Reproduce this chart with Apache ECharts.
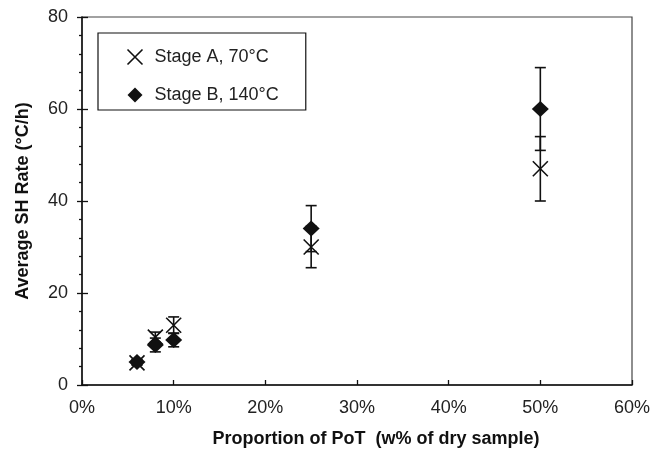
<!DOCTYPE html>
<html>
<head>
<meta charset="utf-8">
<script src="https://cdn.jsdelivr.net/npm/echarts@6/dist/echarts.min.js"></script>
<style>
  html, body { margin: 0; padding: 0; background: #fff; }
  #eChart { width: 653px; height: 449px; }
</style>
</head>
<body>
<div id="eChart"></div>
<script>
// proportion of PoT (%)
var xVals = [6, 8, 10, 25, 50];
// Stage A, 70°C
var aMean = [4.8, 10.4, 13, 30, 47];
var aErr = [0.5, 1.1, 1.8, 4.5, 7];
// Stage B, 140°C
var bMean = [5, 8.7, 9.8, 34, 60];
var bErr = [0.5, 1.5, 1.5, 5, 9];

var crossIcon = 'path://M0,0L10,10M10,0L0,10';
var font = 'Liberation Sans, Arial, sans-serif';

function pts(ys) {
  return xVals.map(function (x, i) { return [x, ys[i]]; });
}
function errData(ys, es) {
  return xVals.map(function (x, i) { return [x, ys[i] - es[i], ys[i] + es[i]]; });
}
function renderErr(params, api) {
  var lo = api.coord([api.value(0), api.value(1)]);
  var hi = api.coord([api.value(0), api.value(2)]);
  var w = 5.5;
  var st = { stroke: '#111', lineWidth: 1.6 };
  return {
    type: 'group',
    children: [
      { type: 'line', shape: { x1: lo[0], y1: lo[1], x2: hi[0], y2: hi[1] }, style: st },
      { type: 'line', shape: { x1: lo[0] - w, y1: lo[1], x2: lo[0] + w, y2: lo[1] }, style: st },
      { type: 'line', shape: { x1: hi[0] - w, y1: hi[1], x2: hi[0] + w, y2: hi[1] }, style: st }
    ]
  };
}

var myChart = echarts.init(document.getElementById('eChart'));
var option = {
  animation: false,
  textStyle: { fontFamily: font },
  grid: {
    left: 82, right: 21, top: 17, bottom: 64,
    outerBoundsMode: 'none',
    show: true, borderColor: '#444', borderWidth: 1.2
  },
  legend: {
    orient: 'vertical',
    left: 98, top: 33,
    padding: [14, 27, 6, 27],
    itemWidth: 15, itemHeight: 15, itemGap: 19,
    borderColor: '#111', borderWidth: 1.2, borderRadius: 0,
    textStyle: { fontSize: 18, color: '#222', fontFamily: font, padding: [0, 0, 0, 7] },
    data: [
      { name: 'Stage A, 70°C', icon: crossIcon, itemStyle: { color: 'none', borderColor: '#111', borderWidth: 1.6, opacity: 1 } },
      { name: 'Stage B, 140°C', icon: 'diamond', itemStyle: { color: '#111', opacity: 1 } }
    ]
  },
  xAxis: {
    type: 'value', min: 0, max: 60, interval: 10,
    name: 'Proportion of PoT  (w% of dry sample)',
    nameLocation: 'middle', nameGap: 45,
    nameTextStyle: { fontSize: 18, fontWeight: 'bold', color: '#111', padding: [0, 0, 0, 38] },
    axisLine: { lineStyle: { color: '#111', width: 1.5 } },
    axisTick: { inside: true, length: 5, lineStyle: { color: '#111', width: 1.3 } },
    axisLabel: { fontSize: 18, color: '#222', margin: 14, formatter: '{value}%' },
    splitLine: { show: false }
  },
  yAxis: [
    {
      type: 'value', min: 0, max: 80, interval: 20,
      name: 'Average SH Rate (°C/h)',
      nameLocation: 'middle', nameGap: 50,
      nameTextStyle: { fontSize: 18, fontWeight: 'bold', color: '#111' },
      axisLine: { lineStyle: { color: '#111', width: 1.5 } },
      axisTick: { length: 5, lineStyle: { color: '#111', width: 1.3 } },
      minorTick: { show: true, splitNumber: 5, length: 3, lineStyle: { color: '#111', width: 1.3 } },
      axisLabel: { fontSize: 18, color: '#222', margin: 14 },
      splitLine: { show: false }
    },
    {
      type: 'value', min: 0, max: 80, interval: 20,
      position: 'left', offset: 0,
      axisLine: { show: false },
      axisTick: { inside: true, length: 6, lineStyle: { color: '#111', width: 1.3 } },
      axisLabel: { show: false },
      splitLine: { show: false }
    }
  ],
  series: [
    {
      name: 'errA', type: 'custom', renderItem: renderErr,
      encode: { x: 0, y: [1, 2] }, data: errData(aMean, aErr), z: 1, silent: true
    },
    {
      name: 'errB', type: 'custom', renderItem: renderErr,
      encode: { x: 0, y: [1, 2] }, data: errData(bMean, bErr), z: 1, silent: true
    },
    {
      name: 'Stage A, 70°C', type: 'scatter', symbol: crossIcon, symbolSize: 15,
      itemStyle: { color: 'none', borderColor: '#111', borderWidth: 1.6, opacity: 1 },
      data: pts(aMean), z: 3
    },
    {
      name: 'Stage B, 140°C', type: 'scatter', symbol: 'diamond', symbolSize: [17, 16],
      itemStyle: { color: '#111', opacity: 1 },
      data: pts(bMean), z: 4
    }
  ]
};
myChart.setOption(option);
</script>
</body>
</html>
